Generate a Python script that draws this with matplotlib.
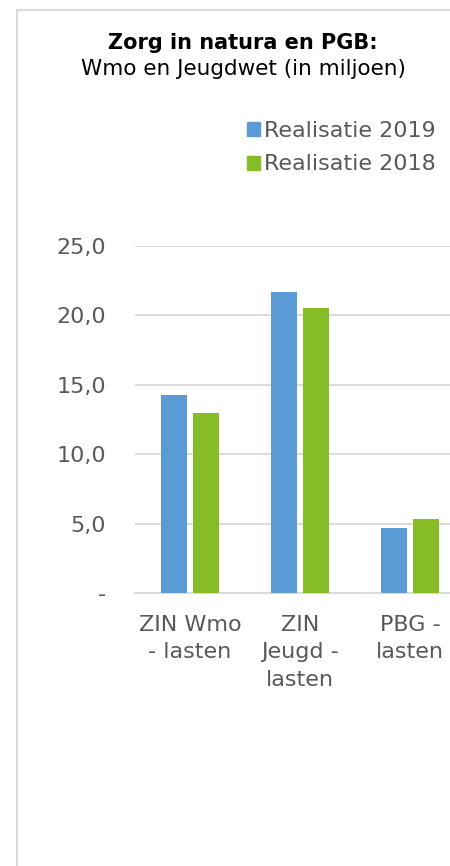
import numpy as np
import matplotlib.pyplot as plt
from matplotlib.patches import Patch
from matplotlib.lines import Line2D
from matplotlib.ticker import FuncFormatter

# data
categories = ['ZIN Wmo\n- lasten', 'ZIN\nJeugd -\nlasten', 'PBG -\nlasten']
real_2019 = [14.3, 21.7, 4.7]
real_2018 = [13.0, 20.5, 5.35]
series_names = ['Realisatie 2019', 'Realisatie 2018']
y_ticks = [0, 5, 10, 15, 20, 25]

blue = '#5B9BD5'
green = '#86BC25'
grey_txt = '#595959'
grid_col = '#D9D9D9'

W, H = 450, 866
fig = plt.figure(figsize=(W / 100, H / 100), dpi=100)
fig.patch.set_facecolor('white')

# chart border (only left and top visible)
fig.add_artist(Line2D([17 / W, 17 / W], [0, 1 - 10 / H], color=grid_col,
                      linewidth=1.5, transform=fig.transFigure))
fig.add_artist(Line2D([17 / W, 1], [1 - 10 / H, 1 - 10 / H], color=grid_col,
                      linewidth=1.5, transform=fig.transFigure))

# axes: x from 135px, 110px per category; y 0..25 from 593px to 246px
ax = fig.add_axes([135 / W, 1 - 593 / H, 330 / W, 347 / H])
ax.set_facecolor('none')

x = np.arange(len(categories))
bw = 0.24
ax.bar(x - 0.145, real_2019, width=bw, color=blue, zorder=3)
ax.bar(x + 0.145, real_2018, width=bw, color=green, zorder=3)

ax.set_xlim(-0.5, 2.5)
ax.set_ylim(0, 25)
ax.set_yticks(y_ticks)
ax.yaxis.set_major_formatter(FuncFormatter(
    lambda v, p: '-' if v == 0 else f'{v:.1f}'.replace('.', ',')))
ax.grid(axis='y', color=grid_col, linewidth=1.3, zorder=0)
ax.set_axisbelow(True)
for s in ['top', 'right', 'left']:
    ax.spines[s].set_visible(False)
ax.spines['bottom'].set_color(grid_col)
ax.spines['bottom'].set_linewidth(1.3)
ax.spines['bottom'].set_zorder(1)

ax.set_xticks(x)
ax.set_xticklabels(categories, linespacing=1.45)
ax.tick_params(axis='both', length=0, labelsize=16, colors=grey_txt)
ax.tick_params(axis='y', pad=21)
ax.tick_params(axis='x', pad=16)

# title
fig.text(243 / W, 1 - 43 / H, 'Zorg in natura en PGB:', ha='center', va='center',
         fontsize=15, fontweight='bold', color='black')
fig.text(243 / W, 1 - 69 / H, 'Wmo en Jeugdwet (in miljoen)', ha='center', va='center',
         fontsize=15.5, color='black')

# legend
handles = [Patch(color=blue), Patch(color=green)]
fig.legend(handles, series_names, loc='upper left',
           bbox_to_anchor=(236 / W, 1 - 110 / H), frameon=False,
           fontsize=16, labelcolor=grey_txt, handlelength=0.6, handleheight=0.6,
           handletextpad=0.15, labelspacing=0.6, borderpad=0)

fig.savefig('out.png', dpi=100)
